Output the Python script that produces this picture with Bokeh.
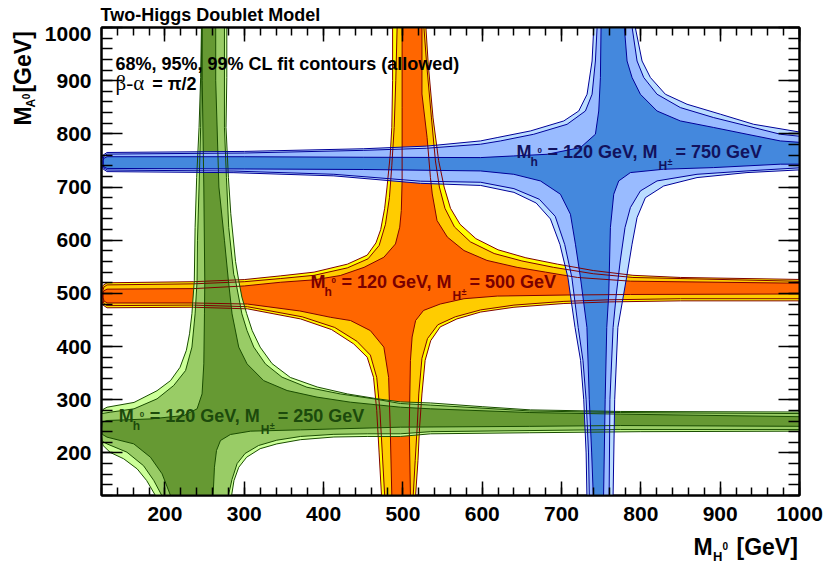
from bokeh.plotting import figure
from bokeh.models import Range1d, LinearAxis, SingleIntervalTicker, CustomJSTickFormatter
from bokeh.core.properties import value
from bokeh.layouts import column, row
from bokeh.embed import file_html
from bokeh.resources import INLINE
import math

FONT = "Liberation Sans"

# ---------------- contour data (GeV) ----------------
# M_H+- = 250 GeV (green)
green99_x = [118.5, 119, 122, 127, 161, 190, 207, 219, 227, 231, 234, 237, 238, 240, 243, 245, 246, 246,
             278, 278, 278, 277, 280, 283, 289, 293, 297, 303, 310, 320, 335, 358, 392, 430, 467, 497, 535, 600, 661, 774, 1010,
             1010, 800, 660, 535, 497, 455, 413, 371, 341, 320, 303, 293, 287, 284, 284,
             188, 188, 177, 165, 148, 131, 122, 119]
green99_y = [250, 270, 282, 286, 295, 317, 336, 361, 393, 424, 462, 524, 624, 718, 812, 906, 1000, 1010,
             1010, 1000, 906, 812, 718, 650, 560, 524, 493, 462, 430, 399, 368, 342, 324, 311, 302, 296, 294, 287, 281, 278, 277,
             241, 240, 238, 236, 231, 231, 230, 225, 217, 208, 192, 173, 148, 120, 110,
             110, 120, 148, 170, 189, 201, 214, 230]
green95_x = [119.5, 120, 131, 161, 190, 211, 226, 234, 238, 240.5, 241, 243, 245, 246.5, 246.5,
             275, 275, 275, 277.5, 280.4, 286.7, 289, 297, 303.5, 312, 326.6, 347.6, 379, 421, 463, 497, 535, 660, 774, 1010,
             1010, 774, 535, 497, 455, 413, 371, 341, 318, 301, 291, 284.5, 280, 280,
             196, 196, 186, 173, 152, 127, 121, 119.5]
green95_y = [260, 274, 276.6, 283, 301.7, 326.8, 355, 399, 461.5, 524, 600, 700, 812, 1000, 1010,
             1010, 1000, 812, 718, 624, 536, 524, 461.5, 430, 399, 367.5, 342.5, 323.6, 311, 301.8, 293, 290, 279, 276, 274,
             244, 244, 240, 236, 236, 235, 231, 224, 214, 199, 180, 150, 120, 110,
             110, 120, 148, 176, 201.5, 217, 222, 240]
green68_x = [120, 121, 127, 182, 224, 240.5, 246.8, 249, 249.8, 250.2, 249, 247, 247,
             264, 264, 268, 275, 280, 284.6, 293, 303.5, 324.5, 354, 391.7, 433.7, 497, 535, 660, 774, 1010,
             1010, 774, 660, 497, 371, 308, 282.5, 270, 265, 262.4, 260.7, 260.7,
             207, 207, 196.4, 181.7, 160.7, 127, 121]
green68_y = [245, 258, 261, 264, 270.4, 283, 311, 367.5, 461.5, 524, 700, 900, 1010,
             1010, 900, 700, 600, 524, 461.5, 399, 367.5, 336, 317.4, 305, 295.5, 286, 283, 276, 273, 268,
             250, 251.6, 250, 248.5, 243.4, 241, 234.7, 223.4, 204.6, 173.2, 120, 110,
             110, 120, 160.7, 192, 217.1, 229.7, 235]

# M_H+- = 500 GeV (orange)
orange99_x = [127, 236, 300, 346, 388, 430, 455, 466, 472, 477, 480, 484, 486, 487, 487,
              529, 529, 532, 538, 545, 552, 560, 572, 592, 620, 655, 695, 740, 790, 850, 1010,
              1010, 850, 760, 703, 640, 598, 568, 547, 535, 528, 524, 521, 519, 516, 516,
              473, 473, 470, 467, 463, 455, 438, 410, 371, 304, 236, 127, 122, 120.5, 120.5, 122]
orange99_y = [520, 522, 526, 533, 540, 555, 572, 595, 620, 660, 700, 760, 812, 900, 1010,
              1010, 1000, 930, 830, 750, 700, 660, 630, 603, 582, 567, 555, 543, 534, 530, 526,
              486, 486, 484, 481, 474, 465, 452, 437, 411, 374, 311, 248, 186, 120, 110,
              110, 120, 200, 280, 342, 380, 405, 432, 452, 471, 474, 473, 478, 488, 506, 515]
orange95_x = [127, 236, 300, 346, 388, 430, 456, 470, 478, 483, 486, 489, 491, 492.7, 492.7,
              526.5, 526.5, 530, 536, 541, 546, 553, 565, 585, 615, 650, 690, 740, 790, 1010,
              1010, 850, 760, 703, 640, 598, 566, 544, 531, 524, 520, 518, 515.5, 513, 513,
              477, 477, 474, 471, 467, 459, 442, 414, 373, 304, 236, 127, 123, 121.5, 121.5, 123]
orange95_y = [516, 518, 522, 528, 534, 548, 565, 590, 630, 680, 740, 812, 900, 1000, 1010,
              1010, 1000, 930, 830, 749, 700, 660, 625, 597, 575, 561, 549, 537, 530, 522.5,
              490, 490, 488, 485, 478, 469, 456, 441, 415, 378, 311, 248, 186, 120, 110,
              110, 120, 200, 280, 342, 384, 410, 436, 456, 475, 478, 477, 481, 490, 504, 512]
orange68_x = [127, 236, 300, 346, 388, 421, 451, 476, 490.6, 496, 498, 499, 499, 499,
              524, 524, 530.5, 534.7, 537, 543, 556, 577, 606, 644, 680, 720, 787, 1010,
              1010, 787, 707, 619, 577, 547, 526, 516, 511.6, 509.5, 508, 509.5, 509.5,
              486, 486, 484, 482, 476, 459, 434, 409, 370, 304, 236, 127, 123, 122, 122, 123]
orange68_y = [508, 509, 514, 521, 525.5, 533.6, 549, 568, 593, 624.5, 656, 712, 850, 1010,
              1010, 875, 793, 718, 687, 637, 606, 580.6, 562, 549, 540, 530, 523, 519,
              499, 498, 497, 495, 490, 480, 468, 449, 418, 374, 248, 120, 110,
              110, 120, 248, 342, 399, 430, 449, 455, 467, 480, 482, 482, 486, 493, 501, 505]

# M_H+- = 750 GeV (blue)
blue99_x = [127, 300, 450, 530, 597.8, 618.8, 660.8, 702.8, 721.7, 732.2, 738.5, 740.6, 740.6,
            793, 793, 801.5, 812, 830.9, 858.2, 900.2, 942.2, 1010,
            1010, 933.8, 870.8, 828.8, 805.7, 795.2, 788.9, 782, 771, 767, 765, 765,
            732, 732, 731, 728, 724, 717, 708, 698, 686, 668, 640, 598, 522, 413, 287, 127, 122, 120.5, 120.5, 122]
blue99_y = [765, 767, 772, 777, 786.7, 793, 805.5, 824.3, 843, 874.5, 937, 1000, 1010,
            1010, 1000, 937, 906, 874.5, 855.7, 837, 818, 801,
            733, 727.2, 717.8, 702, 680, 642.6, 592.5, 530, 436, 300, 120, 110,
            110, 120, 200, 300, 374, 436, 530, 592, 640, 670, 690, 703, 707, 721, 727, 729, 734, 742, 752, 760]
blue95_x = [127, 300, 450, 530, 597.8, 623, 665, 707, 730.1, 738.5, 742.7, 744.8, 744.8,
            789, 789, 795.2, 803.6, 820.4, 849.8, 891.8, 933.8, 975.8, 1010,
            1010, 933.8, 870.8, 820.4, 799.4, 786.8, 780, 774, 769, 765, 761, 760, 760,
            735, 735, 734, 731, 727, 721, 713, 704, 692, 672, 640, 598, 522, 413, 287, 127, 123, 122, 122, 123]
blue95_y = [762, 764, 769, 773, 780.5, 786.7, 799.3, 818, 843, 874.5, 937, 1000, 1010,
            1010, 1000, 937, 906, 874.5, 849.4, 830.6, 815, 799.3, 794,
            737, 730.3, 724, 711.5, 692.7, 661.4, 623.8, 561, 498, 436, 300, 120, 110,
            110, 120, 200, 300, 374, 436, 530, 592, 645, 677, 697, 709, 711, 724, 730, 732, 736, 742, 752, 758]
blue68_x = [127, 300, 450, 597.8, 639.8, 681.8, 723.8, 742.7, 746.9, 749, 749.8, 749.8,
            779.2, 779.2, 782.6, 788.9, 799.4, 820.4, 849.8, 891.8, 933.8, 975.8, 1010,
            1010, 975.8, 891.8, 828.8, 786.8, 772.1, 765.8, 761.6, 759.5, 757, 755, 753, 753,
            740, 740, 738, 735, 732, 723.8, 717.5, 711.2, 698.6, 673.4, 639.8, 597.8, 450, 300, 127, 123, 122, 122, 123]
blue68_y = [757, 757, 756, 755.4, 758.5, 761.6, 774.2, 799.3, 843, 906, 1000, 1010,
            1010, 1000, 937, 906, 874.5, 843, 824.3, 812, 799.3, 786.7, 783,
            743, 743, 736.6, 733.5, 727.2, 711.5, 686.5, 623.8, 498.4, 436, 300, 120, 110,
            110, 120, 200, 300, 436, 530, 592.5, 648.9, 686.5, 711.5, 724, 730.3, 733, 734, 735, 738, 743, 750, 754]

# labels of the three scenarios (green, orange, blue)
mh_label = "120"
charged_masses = ["250", "500", "750"]
label_x = [141.8, 383.5, 643.2]
label_y = [257.8, 510.5, 754.9]

tick_interval = 100
x_range = (120, 1000)
y_range = (120, 1000)

# ---------------- layout geometry (pixels) ----------------
W, H = 827, 563
TOP_H = 26            # strip holding the title
BOT_H = 31            # strip holding the x-axis title
LEFT_W = 38           # strip holding the y-axis title
MID_H = H - TOP_H - BOT_H
FRAME_L, FRAME_R, FRAME_T, FRAME_B = 101, 799, 27, 495
MID = 0.35            # em fraction between alphabetic baseline and the middle of the text box

sets = [
    ("orange", [(orange99_x, orange99_y, "#ffff00"), (orange95_x, orange95_y, "#ffcc00"),
                (orange68_x, orange68_y, "#ff6600")], "#800000", "#7a0000", 1),
    ("green", [(green99_x, green99_y, "#ccff99"), (green95_x, green95_y, "#99cc66"),
               (green68_x, green68_y, "#669933")], "#1a4d00", "#1c4a0c", 0),
    ("blue", [(blue99_x, blue99_y, "#bbddff"), (blue95_x, blue95_y, "#99bbff"),
              (blue68_x, blue68_y, "#4488dd")], "#000099", "#12125e", 2),
]

p = figure(width=W - LEFT_W, height=MID_H, output_backend="svg", toolbar_location=None,
           x_range=Range1d(*x_range), y_range=Range1d(*y_range),
           x_axis_type=None, y_axis_type=None,
           min_border_left=FRAME_L - LEFT_W, min_border_right=W - FRAME_R,
           min_border_top=FRAME_T - TOP_H, min_border_bottom=(TOP_H + MID_H) - FRAME_B)
p.grid.visible = False
p.outline_line_color = "black"
p.outline_line_width = 2
p.background_fill_color = "white"
p.border_fill_color = "white"

for name, levels, lc, tc, i in sets:
    for xs, ys, fc in levels:
        p.patch(xs, ys, fill_color=fc, line_color=None)
for name, levels, lc, tc, i in sets:
    for xs, ys, fc in levels:
        p.line(xs + xs[:1], ys + ys[:1], line_color=lc, line_width=1)


def make_axis(side, labels, tin, tmin, standoff=10):
    ax = LinearAxis(ticker=SingleIntervalTicker(interval=tick_interval, num_minor_ticks=5))
    ax.major_tick_in = tin
    ax.major_tick_out = 0
    ax.minor_tick_in = tmin
    ax.minor_tick_out = 0
    ax.axis_line_width = 2
    ax.major_tick_line_width = 1.5
    ax.minor_tick_line_width = 1.5
    if labels:
        ax.major_label_text_font = FONT
        ax.major_label_text_font_style = "bold"
        ax.major_label_text_font_size = "21px"
        ax.major_label_text_color = "black"
        ax.major_label_standoff = standoff
    else:
        ax.formatter = CustomJSTickFormatter(code="return ''")
        ax.major_label_text_font_size = "0px"
        ax.major_label_standoff = 0
    p.add_layout(ax, side)


make_axis("below", True, 14, 8, 11)
make_axis("left", True, 21, 11, 10)
make_axis("above", False, 14, 8)
make_axis("right", False, 21, 11)


def write(fig, x, y, text, size, color="black", dx=0.0, dy=0.0, angle=0.0, align="left",
          font=FONT, style="bold"):
    """Text whose alphabetic baseline sits at (x, y) shifted by (dx, dy) screen pixels."""
    if angle == 0.0:
        ox, oy = dx, dy - MID * size
    else:
        ox, oy = dx - MID * size, dy
    fig.text(x=[x], y=[y], text=[text], x_offset=ox, y_offset=oy, angle=angle,
             text_font=value(font), text_font_style=style, text_font_size=f"{size}px",
             text_color=color, text_baseline="middle", text_align=align)


for name, levels, lc, tc, i in sets:
    lx, ly, m = label_x[i], label_y[i], charged_masses[i]
    pieces = [("M", 0, 0, 18), ("h", 14, 8, 12), ("0", 21, -5, 8),
              ("= " + mh_label + " GeV, M", 31, 0, 18), ("H", 142, 12, 12), ("\u00b1", 151, 7, 9),
              ("= " + m + " GeV", 159, 0, 18)]
    for t, ddx, ddy, fs in pieces:
        write(p, lx, ly, t, fs, tc, ddx, ddy)

# texts inside the frame
write(p, 137.6, 920.3, "68%, 95%, 99% CL fit contours (allowed)", 18)
write(p, 137.6, 881.4, "\u03b2-\u03b1", 21, font="Liberation Serif", style="normal")
write(p, 183.9, 881.4, "= \u03c0/2", 18)


# ---------------- strips for the texts outside the frame ----------------
def strip(w, h):
    f = figure(width=w, height=h, output_backend="svg", toolbar_location=None,
               x_range=Range1d(0, w), y_range=Range1d(0, h), x_axis_type=None, y_axis_type=None,
               min_border=0, min_border_left=0, min_border_right=0,
               min_border_top=0, min_border_bottom=0)
    f.outline_line_color = None
    f.background_fill_color = "white"
    f.border_fill_color = "white"
    return f


def put(f, ox, oy, h, text, cx, cy, size, angle=0.0, align="left"):
    write(f, cx - ox, h - (cy - oy), text, size, angle=angle, align=align)


top = strip(W, TOP_H)
put(top, 0, 0, TOP_H, "Two-Higgs Doublet Model", 100, 21, 18)

left = strip(LEFT_W, MID_H)
a = math.pi / 2
put(left, 0, TOP_H, MID_H, "M", 31.0, 132, 23, a)
put(left, 0, TOP_H, MID_H, "A", 35.0, 112.5, 12, a)
put(left, 0, TOP_H, MID_H, "0", 28.5, 103.5, 10, a)
put(left, 0, TOP_H, MID_H, "[GeV]", 31.0, 30, 23, a, "right")

bottom = strip(W, BOT_H)
oy_b = TOP_H + MID_H
put(bottom, 0, oy_b, BOT_H, "M", 693, 554.3, 23)
put(bottom, 0, oy_b, BOT_H, "H", 712.5, 560.5, 13)
put(bottom, 0, oy_b, BOT_H, "0", 722, 548.5, 10)
put(bottom, 0, oy_b, BOT_H, "[GeV]", 736, 554.3, 23)

layout = column(top, row(left, p), bottom)

open("out.html", "w").write(file_html(layout, INLINE))
